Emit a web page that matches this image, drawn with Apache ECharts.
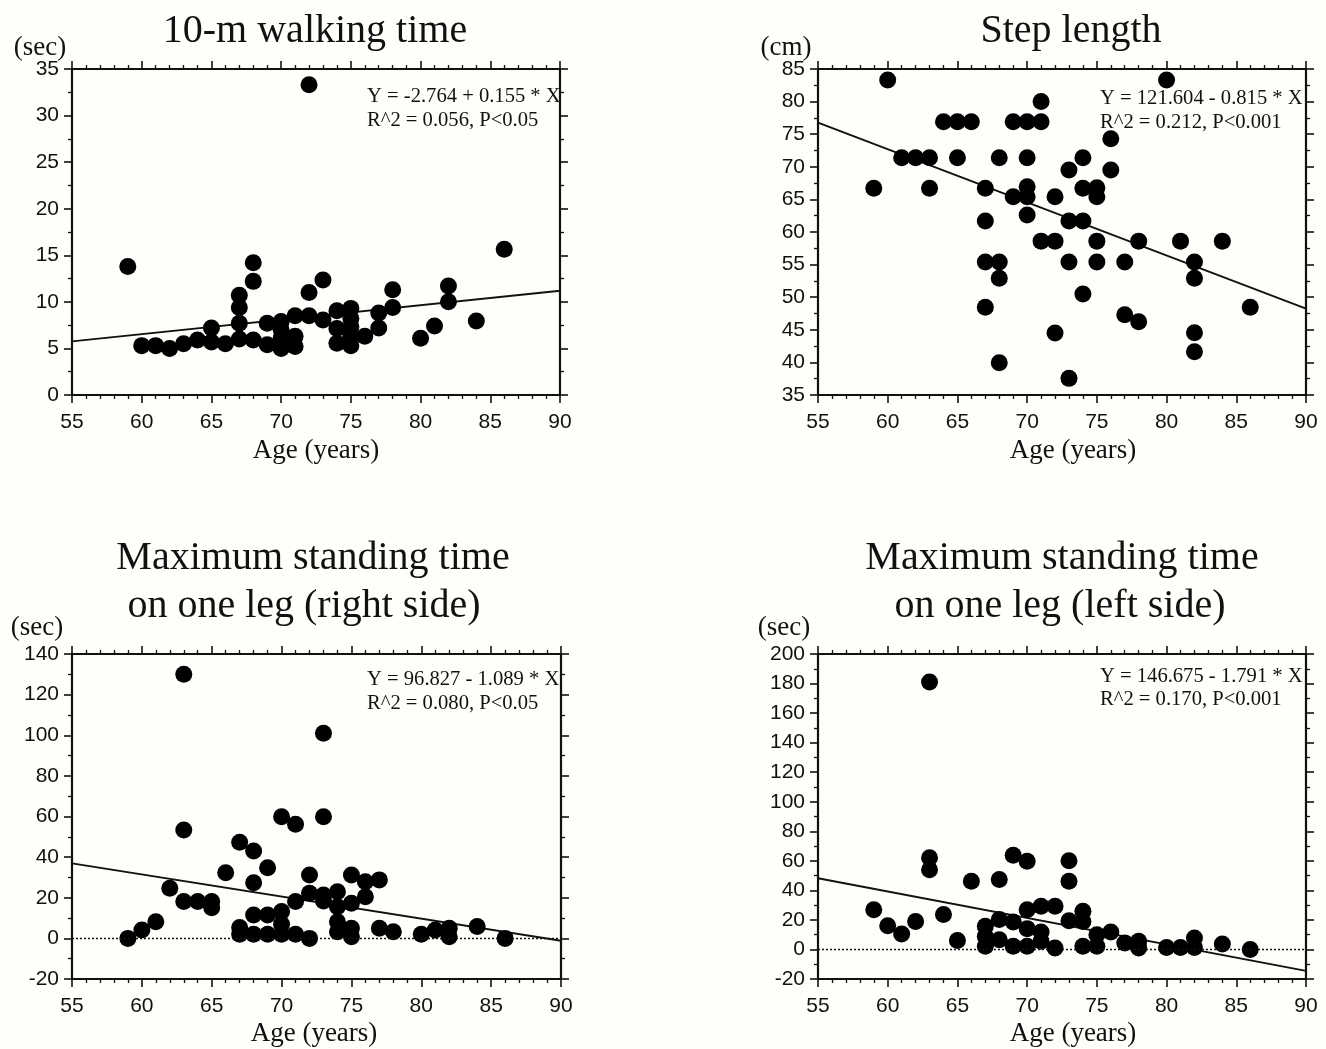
<!DOCTYPE html>
<html><head><meta charset="utf-8">
<script src="https://cdn.jsdelivr.net/npm/echarts@6/dist/echarts.min.js"></script>
<style>html,body{margin:0;padding:0;background:#fefefb}#c{width:1326px;height:1049px}</style>
</head><body><div id="c"></div>
<script>
// ---------- data ----------
const xTicks = [55, 60, 65, 70, 75, 80, 85, 90];

// Panel 1: 10-m walking time (sec)
const walkAge  = [59,60,61,62,63,64,65,65,66,67,67,67,67,68,68,68,69,69,70,70,70,70,71,71,71,72,72,72,73,73,74,74,74,75,75,75,75,75,76,77,77,78,78,80,81,82,82,84,86];
const walkTime = [13.8,5.3,5.3,5.0,5.5,5.9,7.2,5.7,5.5,10.7,9.4,7.7,6.0,14.2,12.2,5.9,7.7,5.4,7.9,7.0,6.1,5.0,8.5,6.3,5.2,33.3,11.0,8.5,12.35,8.05,9.05,7.15,5.55,9.3,8.2,7.3,6.3,5.3,6.3,8.8,7.2,11.3,9.4,6.1,7.4,11.7,10.0,7.95,15.65];
const walkCoef = [-2.764, 0.155];
const walkEq = ['Y = -2.764 + 0.155 * X', 'R^2 = 0.056, P<0.05'];

// Panel 2: step length (cm)
const stepAge = [59,60,61,62,63,63,64,65,65,66,67,67,67,67,68,68,68,68,69,69,70,70,70,70,70,71,71,71,72,72,72,73,73,73,73,74,74,74,74,75,75,75,75,76,76,77,77,78,78,80,81,82,82,82,82,84,86];
const stepLen = [66.7,83.3,71.4,71.4,71.4,66.7,76.9,76.9,71.4,76.9,66.7,61.7,55.4,48.45,71.4,55.4,52.9,39.95,76.9,65.4,76.9,71.4,66.95,65.4,62.6,80.0,76.9,58.6,65.4,58.6,44.5,69.5,61.7,55.4,37.55,71.4,66.7,61.7,50.5,66.8,65.4,58.6,55.4,74.3,69.5,55.4,47.3,58.6,46.25,83.3,58.6,55.4,52.9,44.55,41.65,58.6,48.45];
const stepCoef = [121.604, -0.815];
const stepEq = ['Y = 121.604 - 0.815 * X', 'R^2 = 0.212, P<0.001'];

// Panel 3: standing on one leg, right side (sec)
const rightAge  = [59,60,61,62,63,63,63,64,65,65,66,67,67,67,68,68,68,68,69,69,69,70,70,70,70,71,71,71,72,72,72,73,73,73,73,74,74,74,74,75,75,75,75,76,76,77,77,78,80,81,82,82,84,86];
const rightTime = [0,4.1,8.2,24.7,130,53.4,18.1,18.1,18.1,15.1,32.3,47.3,5.3,2.0,43.0,27.4,11.5,2.0,34.8,11.5,2.0,59.9,13.2,6.9,2.0,56.2,18.1,2.0,31.2,22.2,0,101,59.9,21.4,18.4,23.0,15.6,8.2,3.3,31.2,17.3,5.0,0.8,27.9,20.5,28.8,5.0,3.3,2.0,4.1,5.0,0.8,5.8,0];
const rightCoef = [96.827, -1.089];
const rightEq = ['Y = 96.827 - 1.089 * X', 'R^2 = 0.080, P<0.05'];

// Panel 4: standing on one leg, left side (sec)
const leftAge  = [59,60,61,62,63,63,63,64,65,66,67,67,67,68,68,68,69,69,69,70,70,70,70,71,71,71,72,72,73,73,73,74,74,74,75,75,76,77,78,78,80,81,82,82,84,86];
const leftTime = [26.9,16.1,10.5,19.0,181.1,62.0,54.0,23.6,6.0,46.1,15.7,8.9,2.1,47.3,20.2,6.6,63.7,18.6,2.1,59.7,26.9,14.1,2.1,29.2,11.8,5.5,29.2,1.0,60.1,46.1,19.5,25.8,19.0,2.1,10.0,2.1,11.8,4.4,5.5,1.0,1.4,1.4,7.8,1.4,3.7,0];
const leftCoef = [146.675, -1.791];
const leftEq = ['Y = 146.675 - 1.791 * X', 'R^2 = 0.170, P<0.001'];

// ---------- layout ----------
const panels = [
  {ages: walkAge, vals: walkTime, coef: walkCoef, eq: walkEq, title: ['10-m walking time'], unit: '(sec)',
   ymin: 0, ymax: 35, yint: 5, zero: false,
   grid: {left: 72, top: 69, width: 488, height: 326},
   titleX: [315], titleY: [31], unitX: 40, unitY: 48, ageX: 316, ageY: 451, eqX: 367, eqY: [97, 121]},
  {ages: stepAge, vals: stepLen, coef: stepCoef, eq: stepEq, title: ['Step length'], unit: '(cm)',
   ymin: 35, ymax: 85, yint: 5, zero: false,
   grid: {left: 818, top: 69, width: 488, height: 326},
   titleX: [1071], titleY: [31], unitX: 786, unitY: 48, ageX: 1073, ageY: 451, eqX: 1100, eqY: [99, 123]},
  {ages: rightAge, vals: rightTime, coef: rightCoef, eq: rightEq, title: ['Maximum standing time', 'on one leg (right side)'], unit: '(sec)',
   ymin: -20, ymax: 140, yint: 20, zero: true,
   grid: {left: 72, top: 654, width: 489, height: 325},
   titleX: [313, 304], titleY: [558, 606], unitX: 37, unitY: 628, ageX: 314, ageY: 1034, eqX: 367, eqY: [680, 704]},
  {ages: leftAge, vals: leftTime, coef: leftCoef, eq: leftEq, title: ['Maximum standing time', 'on one leg (left side)'], unit: '(sec)',
   ymin: -20, ymax: 200, yint: 20, zero: true,
   grid: {left: 818, top: 654, width: 488, height: 325},
   titleX: [1062, 1060], titleY: [558, 606], unitX: 784, unitY: 628, ageX: 1073, ageY: 1034, eqX: 1100, eqY: [677, 700]}
];

const INK = '#111';
const axisLine = {show: true, onZero: false, lineStyle: {color: INK, width: 2.2}};
const tick = {show: true, inside: false, length: 8, lineStyle: {color: INK, width: 1.6}};
const labelFont = {color: '#111', fontFamily: '"Liberation Sans Narrow","Liberation Sans",Arial,sans-serif', fontSize: 21};

const grids = [], xAxes = [], yAxes = [], series = [], graphics = [];

panels.forEach((p, i) => {
  grids.push(Object.assign({containLabel: false}, p.grid));
  ['bottom', 'top'].forEach(pos => {
    xAxes.push({
      type: 'value', gridIndex: i, position: pos, min: xTicks[0], max: xTicks[xTicks.length - 1], interval: 5,
      axisLine: axisLine, axisTick: tick,
      minorTick: {show: true, splitNumber: 5, length: 4, lineStyle: {color: INK, width: 1.3}},
      axisLabel: Object.assign({show: pos === 'bottom', margin: 17}, labelFont),
      splitLine: {show: false}, minorSplitLine: {show: false}
    });
  });
  ['left', 'right'].forEach(pos => {
    yAxes.push({
      type: 'value', gridIndex: i, position: pos, min: p.ymin, max: p.ymax, interval: p.yint,
      axisLine: axisLine, axisTick: tick,
      minorTick: {show: true, splitNumber: 2, length: 4, lineStyle: {color: INK, width: 1.3}},
      axisLabel: Object.assign({show: pos === 'left', margin: 13}, labelFont),
      splitLine: {show: false}, minorSplitLine: {show: false}
    });
  });
  const xi = i * 2, yi = i * 2;
  const x0 = xTicks[0], x1 = xTicks[xTicks.length - 1];
  series.push({
    type: 'line', xAxisIndex: xi, yAxisIndex: yi, z: 2, showSymbol: false, symbol: 'none',
    data: [[x0, p.coef[0] + p.coef[1] * x0], [x1, p.coef[0] + p.coef[1] * x1]],
    lineStyle: {color: INK, width: 1.9}, clip: true,
    markLine: p.zero ? {silent: true, symbol: 'none', label: {show: false},
      lineStyle: {type: [2, 2], color: INK, width: 1.3}, data: [{yAxis: 0}]} : undefined
  });
  series.push({
    type: 'scatter', xAxisIndex: xi, yAxisIndex: yi, z: 3, symbol: 'circle', symbolSize: 17,
    itemStyle: {color: '#000', opacity: 1},
    data: p.ages.map((a, k) => [a, p.vals[k]])
  });

  const serif = '"Liberation Serif","Times New Roman",serif';
  p.title.forEach((t, k) => graphics.push({type: 'text', x: p.titleX[k], y: p.titleY[k],
    style: {text: t, font: '40px ' + serif, fill: '#111', textAlign: 'center', textVerticalAlign: 'middle', align: 'center', verticalAlign: 'middle'}}));
  graphics.push({type: 'text', x: p.unitX, y: p.unitY,
    style: {text: p.unit, font: '27px ' + serif, fill: '#111', textAlign: 'center', textVerticalAlign: 'middle', align: 'center', verticalAlign: 'middle'}});
  graphics.push({type: 'text', x: p.ageX, y: p.ageY,
    style: {text: 'Age (years)', font: '27px ' + serif, fill: '#111', textAlign: 'center', textVerticalAlign: 'middle', align: 'center', verticalAlign: 'middle'}});
  p.eq.forEach((t, k) => graphics.push({type: 'text', x: p.eqX, y: p.eqY[k], z: 10,
    style: {text: t, font: '20.6px ' + serif, fill: '#111', textAlign: 'left', textVerticalAlign: 'middle', align: 'left', verticalAlign: 'middle'}}));
});

const chart = echarts.init(document.getElementById('c'), null, {renderer: 'canvas'});
chart.setOption({
  backgroundColor: '#fefefb',
  animation: false,
  grid: grids, xAxis: xAxes, yAxis: yAxes, series: series,
  graphic: graphics
});
</script>
</body></html>
